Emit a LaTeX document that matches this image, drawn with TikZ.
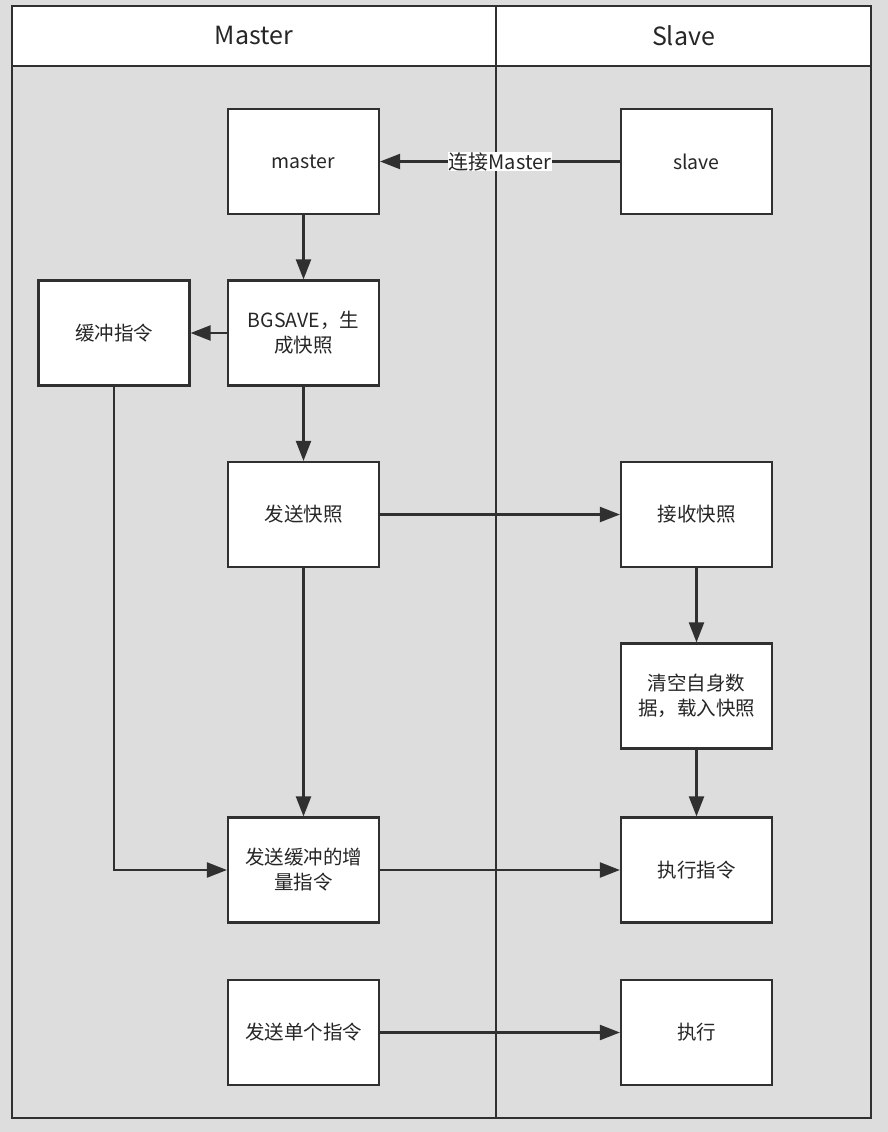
\documentclass[tikz,border=0pt]{standalone}
\usepackage{fontspec}
\setmainfont{Noto Sans CJK SC}
\usetikzlibrary{arrows.meta}
\definecolor{bgc}{HTML}{DDDDDD}
\definecolor{lnc}{HTML}{303030}
\tikzset{
  box/.style={draw=lnc, fill=white, line width=2.2pt, minimum width=151pt, minimum height=105pt, align=center, font=\fontsize{19.5}{25}\selectfont, text=black!85, inner sep=2pt},
  conn/.style={draw=lnc, line width=2.2pt, -{Triangle[length=20pt,width=15pt]}},
  hdr/.style={font=\fontsize{25}{30}\selectfont, text=black!85}
}
\begin{document}
\begin{tikzpicture}[x=1pt,y=-1pt]
\useasboundingbox (0,0) rectangle (888,1132);
\fill[bgc] (0,0) rectangle (888,1132);
\fill[white] (12,6) rectangle (871,66);
\draw[lnc, line width=2.2pt] (12,6) rectangle (871,1118);
\draw[lnc, line width=2.2pt] (12,66) -- (871,66);
\draw[lnc, line width=2.2pt] (496,6) -- (496,1118);
\node[hdr] (hm) at (254,36) {Master};
\node[hdr] (hs) at (683.5,36) {Slave};

\node[box] (master) at (303.5,161.5) {master};
\node[box] (slave) at (696.5,161.5) {slave};
\node[box] (buf) at (114,333) {缓冲指令};
\node[box] (bg) at (303.5,333) {BGSAVE，生\\成快照};
\node[box] (snd) at (303.5,514.5) {发送快照};
\node[box] (rcv) at (696.5,514.5) {接收快照};
\node[box] (clr) at (696.5,696) {清空自身数\\据，载入快照};
\node[box] (inc) at (303.5,870) {发送缓冲的增\\量指令};
\node[box] (exe) at (696.5,870) {执行指令};
\node[box] (one) at (303.5,1032.5) {发送单个指令};
\node[box] (ex1) at (696.5,1032.5) {执行};

\draw[conn] (slave) -- node[fill=white, inner sep=0.5pt, font=\fontsize{20}{24}\selectfont, text=black!85] {连接Master} (master);
\draw[conn] (master) -- (bg);
\draw[conn] (bg) -- (buf);
\draw[conn] (bg) -- (snd);
\draw[conn] (snd) -- (rcv);
\draw[conn] (snd) -- (inc);
\draw[conn] (buf.south) |- (inc.west);
\draw[conn] (rcv) -- (clr);
\draw[conn] (clr) -- (exe);
\draw[conn] (inc) -- (exe);
\draw[conn] (one) -- (ex1);
\end{tikzpicture}
\end{document}
